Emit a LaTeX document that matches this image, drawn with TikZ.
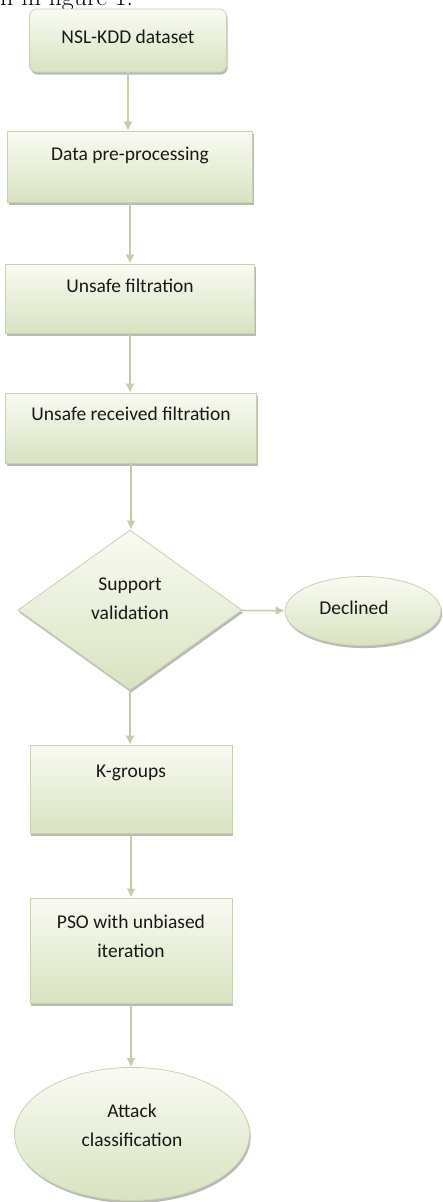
\documentclass[tikz,border=0pt]{standalone}
\usepackage{fontspec}
\usepackage{tikz}
\usetikzlibrary{shapes.geometric, shadows, arrows.meta}
\newfontfamily\boxfont{Carlito}
\definecolor{boxtop}{HTML}{F9FBF3}
\definecolor{boxbot}{HTML}{D8E3C0}
\definecolor{boxline}{HTML}{C8D3AE}
\definecolor{arrowgreen}{HTML}{C2CEA5}

\begin{document}
\begin{tikzpicture}[x=1pt, y=-1pt,
                        chart/.style={draw=boxline, line width=0.8pt, top color=boxtop, bottom color=boxbot, inner sep=0pt,
                                drop shadow={shadow xshift=1.2pt, shadow yshift=-2.6pt, fill=black!50, opacity=0.55}},
                        flowbox/.style={chart, rectangle},
                        decision/.style={chart, diamond, aspect=1.4},
                        terminal/.style={chart, ellipse},
                        inside/.style={font=\boxfont\fontsize{19.5}{29}\selectfont, align=center, text=black!90},
                        link/.style={-{Latex[length=9pt, width=9pt]}, line width=1.5pt, draw=arrowgreen, fill=arrowgreen}]
                        \useasboundingbox (0, 0) rectangle (442, 1202);
                        \node[anchor=base west, inner sep=0pt, font=\fontsize{26}{30}\selectfont] (caption) at (0, 5){n in figure 1.};
                        \node[flowbox, rounded corners=7pt, minimum width=197pt, minimum height=63pt,
                                label={[inside, yshift=3.5pt]center:NSL-KDD dataset}] (nsl) at (128, 40.5){};
                        \node[flowbox, minimum width=245pt, minimum height=71pt,
                                label={[inside, yshift=11.5pt]center:Data pre-processing}] (prep) at (130, 166.5){};
                        \node[flowbox, minimum width=249pt, minimum height=69pt,
                                label={[inside, yshift=12.5pt]center:Unsafe filtration}] (unsafe) at (130, 298.5){};
                        \node[flowbox, minimum width=251pt, minimum height=70pt,
                                label={[inside, yshift=14pt]center:Unsafe received filtration}] (received) at (131, 428){};
                        \node[decision, minimum width=224pt, minimum height=160pt,
                                label={[inside, yshift=11.5pt]center:Support\\validation}] (support) at (130, 610){};
                        \node[terminal, minimum width=156pt, minimum height=69pt,
                                label={[inside, xshift=-9pt, yshift=3pt]center:Declined}] (declined) at (363, 611){};
                        \node[flowbox, minimum width=202pt, minimum height=88pt,
                                label={[inside, yshift=16pt]center:K-groups}] (kgroups) at (131, 789){};
                        \node[flowbox, minimum width=202pt, minimum height=105pt,
                                label={[inside, yshift=14pt]center:PSO with unbiased\\iteration}] (pso) at (131, 950.5){};
                        \node[terminal, minimum width=235pt, minimum height=133pt,
                                label={[inside, yshift=9pt]center:Attack\\classification}] (attack) at (132, 1134){};
                        \draw[link] (nsl) -- (nsl |- prep.north);
                        \draw[link] (prep) -- (prep |- unsafe.north);
                        \draw[link] (unsafe) -- (unsafe |- received.north);
                        \draw[link] (received) -- (received |- support.north);
                        \draw[link] (support) -- (declined);
                        \draw[link] (support) -- (support |- kgroups.north);
                        \draw[link] (kgroups) -- (kgroups |- pso.north);
                        \draw[link] (pso) -- (pso |- attack.north);
                \end{tikzpicture}
\end{document}
